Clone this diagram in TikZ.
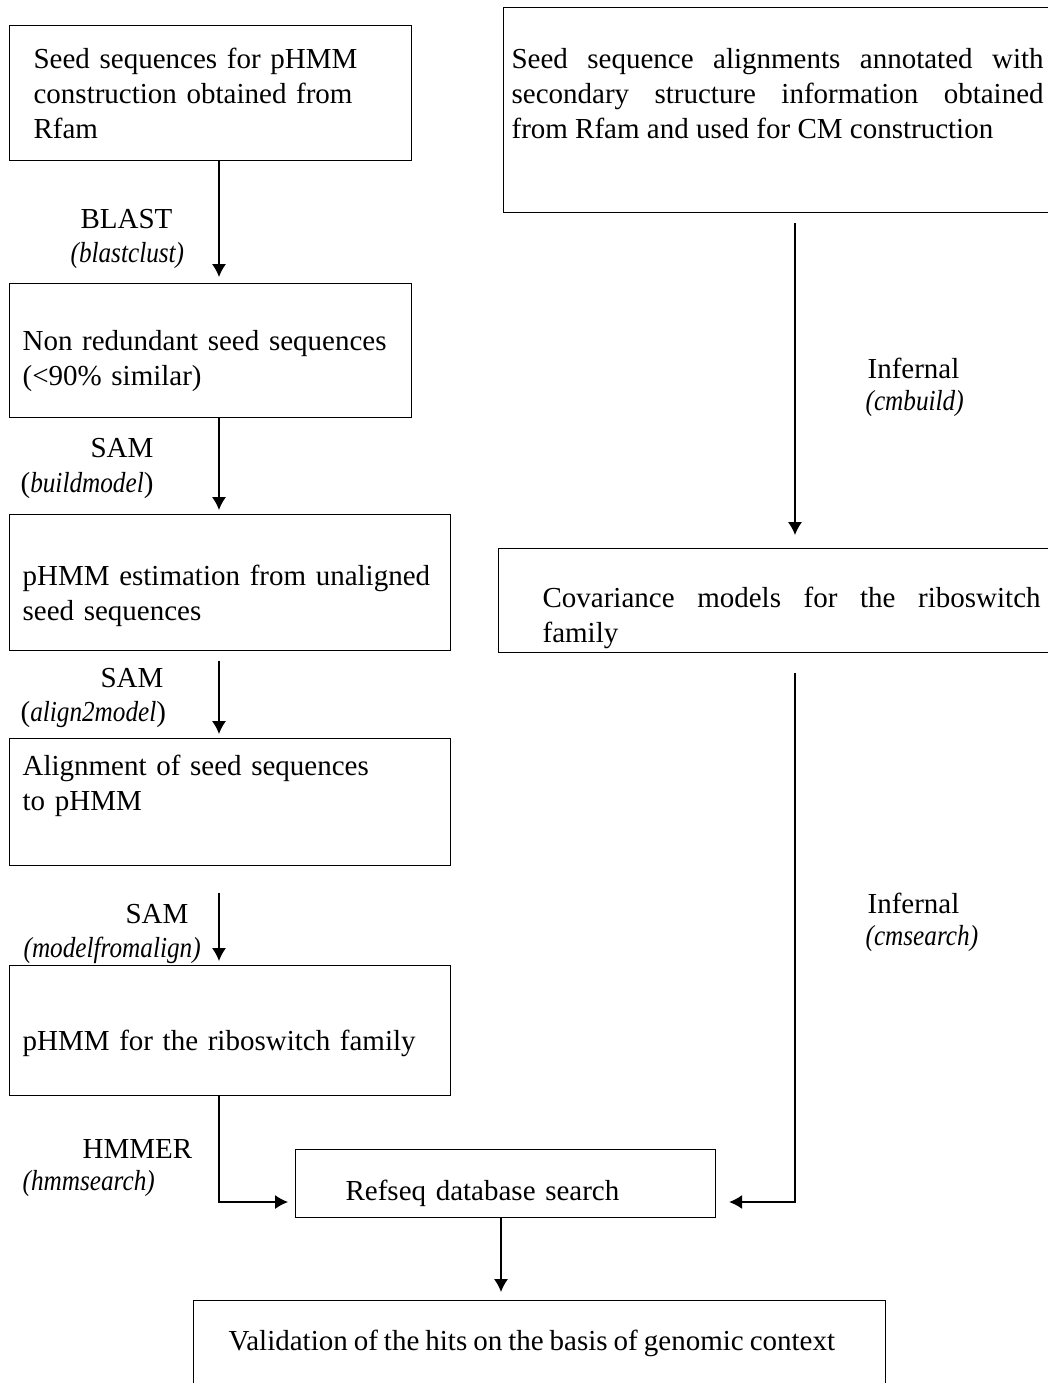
\documentclass[tikz,border=0pt]{standalone}
\usepackage{fontspec}
\usepackage{graphicx}
\setmainfont{Liberation Serif}
\usetikzlibrary{arrows.meta, positioning, calc}

\newcommand\diagfont{\fontsize{14.5}{17.5}\selectfont}
\newcommand\progname[1]{\scalebox{0.87}[1]{\itshape #1}}

\tikzset{
  box/.style={draw, anchor=north west, inner ysep=0pt, align=left},
  jbox/.style={draw, anchor=north west, inner ysep=0pt, align=justify},
  tool/.style={anchor=base west, inner sep=0pt}
}

\begin{document}
\begin{tikzpicture}[x=0.5pt, y=-0.5pt, >={Latex[length=6.5pt,width=7pt]},
    line width=0.6pt, font=\diagfont]
  \useasboundingbox (0,0) rectangle (1048,1383);

  % left column
  \node[box, inner xsep=12pt, text width=177pt, text height=21.5pt, text depth=46pt] (seed1) at (9,25)
    {Seed sequences for pHMM\\construction obtained from\\Rfam};
  \node[box, inner xsep=6.5pt, text width=188pt, text height=33.5pt, text depth=33.5pt] (nonred) at (9,283)
    {Non redundant seed sequences\\(<90\% similar)};
  \node[box, inner xsep=6.5pt, text width=207.5pt, text height=35.5pt, text depth=32.5pt] (estim) at (9,514)
    {pHMM estimation from unaligned\\seed sequences};
  \node[box, inner xsep=6.5pt, text width=207.5pt, text height=18.5pt, text depth=45pt] (align) at (9,738)
    {Alignment of seed sequences\\to pHMM};
  \node[box, inner xsep=6.5pt, text width=207.5pt, text height=42.5pt, text depth=22.5pt] (phmm) at (9,965)
    {pHMM for the riboswitch family};

  % right column
  \node[jbox, inner xsep=4pt, text width=266pt, text height=30.5pt, text depth=72pt] (seed2) at (503,7)
    {Seed sequence alignments annotated with\linebreak secondary structure information obtained\linebreak from Rfam and used for CM construction};
  \node[jbox, inner xsep=22pt, text width=249pt, text height=29.5pt, text depth=22.5pt] (cov) at (498,548)
    {Covariance models for the riboswitch\linebreak family};

  % bottom
  \node[box, inner xsep=25pt, text width=160pt, text height=25.5pt, text depth=8.5pt] (refseq) at (295,1149)
    {Refseq database search};
  \node[box, inner xsep=17.5pt, text width=311pt, text height=25pt, text depth=20pt] (valid) at (193,1300)
    {\mbox{\spaceskip=3pt Validation of the hits on the basis of genomic context}};

  % arrow lines
  \coordinate (lx) at (219,0);
  \coordinate (rx) at (795,0);
  \coordinate (mx) at (501,0);
  \coordinate (hy) at (0,1202);

  \draw[->, shorten >=3pt] (seed1.south -| lx) -- (nonred.north -| lx);
  \draw[->, shorten >=2pt] (nonred.south -| lx) -- (estim.north -| lx);
  \draw[->, shorten <=5pt, shorten >=2pt] (estim.south -| lx) -- (align.north -| lx);
  \draw[->, shorten <=13.5pt, shorten >=2pt] (align.south -| lx) -- (phmm.north -| lx);
  \draw[->, shorten >=3.5pt] (phmm.south -| lx) |- (refseq.west |- hy);
  \draw[->, shorten <=5pt, shorten >=6.5pt] (seed2.south -| rx) -- (cov.north -| rx);
  \draw[->, shorten <=10pt, shorten >=6.5pt] (cov.south -| rx) |- (refseq.east |- hy);
  \draw[->, shorten >=4pt] (refseq.south -| mx) -- (valid.north -| mx);

  % tool labels
  \node[tool] (blast) at (80,228) {BLAST};
  \node[tool] (blastclust) at (70,262) {\progname{(blastclust)}};
  \node[tool] (sam1) at (90,457) {SAM};
  \node[tool] (buildmodel) at (20,492) {(\progname{buildmodel})};
  \node[tool] (sam2) at (100,687) {SAM};
  \node[tool] (align2model) at (20,721) {(\progname{align2model})};
  \node[tool] (sam3) at (125,923) {SAM};
  \node[tool] (modelfromalign) at (23,957) {\progname{(modelfromalign)}};
  \node[tool] (hmmer) at (82,1158) {HMMER};
  \node[tool] (hmmsearch) at (22,1190) {\progname{(hmmsearch)}};
  \node[tool] (infernal1) at (867,378) {Infernal};
  \node[tool] (cmbuild) at (865,410) {\progname{(cmbuild)}};
  \node[tool] (infernal2) at (867,913) {Infernal};
  \node[tool] (cmsearch) at (865,945) {\progname{(cmsearch)}};
\end{tikzpicture}
\end{document}
